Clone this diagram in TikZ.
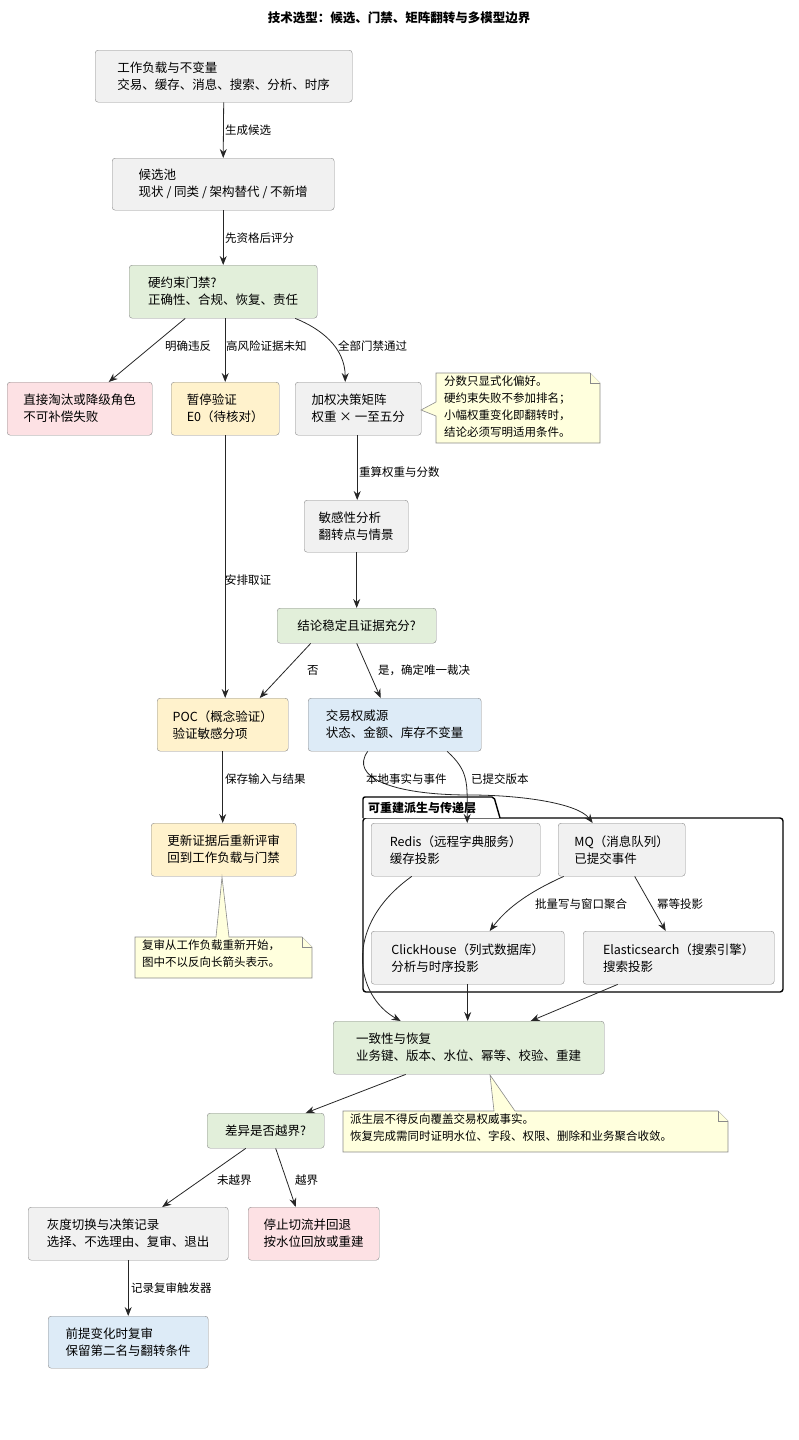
\documentclass[tikz,border=0pt]{standalone}
\usepackage{fontspec}
\setmainfont{Noto Sans CJK SC}
\usetikzlibrary{arrows.meta}
\definecolor{cgray}{HTML}{F1F1F1}
\definecolor{cgreen}{HTML}{E2EFDA}
\definecolor{cpink}{HTML}{FDE1E4}
\definecolor{cyel}{HTML}{FFF2CC}
\definecolor{cblue}{HTML}{DDEBF7}
\definecolor{cnote}{HTML}{FFFFDD}
\definecolor{cbord}{HTML}{8A8A8A}
\tikzset{
  box/.style n args={3}{draw=cbord, rounded corners=3pt, fill=#1, anchor=north west,
    minimum width=#2, minimum height=#3, inner xsep=10pt, inner ysep=0pt, align=left,
    font=\fontsize{12.5}{17}\selectfont},
  note/.style={draw=cbord, fill=cnote, line width=0.6pt},
  notetext/.style={anchor=north west, align=left, inner sep=0pt, font=\fontsize{11.5}{17}\selectfont},
  lab/.style={anchor=west, inner sep=0pt, font=\fontsize{11.5}{14}\selectfont},
  arr/.style={draw=black!85, line width=0.8pt, -{Stealth[length=9pt,width=7pt,inset=3pt]}},
}
\begin{document}
\begin{tikzpicture}[x=1pt,y=-1pt]
\useasboundingbox (0,0) rectangle (798,1440);
\node[font=\bfseries\fontsize{12.5}{15}\selectfont] (title) at (399,18) {技术选型：候选、门禁、矩阵翻转与多模型边界};

\node[box={cgray}{257pt}{52pt}] (n1) at (95,50) {工作负载与不变量\\交易、缓存、消息、搜索、分析、时序};
\node[box={cgray}{222pt}{52pt}] (n2) at (112,158) {候选池\\现状 / 同类 / 架构替代 / 不新增};
\node[box={cgreen}{188pt}{53pt}] (n3) at (129,265) {硬约束门禁?\\正确性、合规、恢复、责任};
\node[box={cpink}{145pt}{53pt}] (n4) at (7,382) {直接淘汰或降级角色\\不可补偿失败};
\node[box={cyel}{108pt}{53pt}] (n5) at (171,382) {暂停验证\\E0（待核对）};
\node[box={cgray}{126pt}{53pt}] (n6) at (295,382) {加权决策矩阵\\权重 × 一至五分};
\node[box={cgray}{104pt}{52pt}] (n7) at (304,500) {敏感性分析\\翻转点与情景};
\node[box={cgreen}{159pt}{35pt}] (n8) at (277,608) {结论稳定且证据充分?};
\node[box={cyel}{131pt}{53pt}] (n9) at (157,698) {POC（概念验证）\\验证敏感分项};
\node[box={cblue}{173pt}{53pt}] (n10) at (308,698) {交易权威源\\状态、金额、库存不变量};
\node[box={cyel}{145pt}{53pt}] (n11) at (151,823) {更新证据后重新评审\\回到工作负载与门禁};

% cluster
\draw[line width=1.4pt, rounded corners=3pt] (363,818) rectangle (783,992);
\draw[line width=1.4pt, rounded corners=2pt, fill=white] (363,818) -- (363,797) -- (494,797) -- (500,818);
\node[anchor=west, inner sep=0pt, font=\bfseries\fontsize{12}{14}\selectfont] (clab) at (368,808) {可重建派生与传递层};

\node[box={cgray}{169pt}{53pt}] (redis) at (371,823) {Redis（远程字典服务）\\缓存投影};
\node[box={cgray}{127pt}{53pt}] (mq) at (558,823) {MQ（消息队列）\\已提交事件};
\node[box={cgray}{193pt}{53pt}] (ch) at (371,931) {ClickHouse（列式数据库）\\分析与时序投影};
\node[box={cgray}{191pt}{53pt}] (es) at (583,931) {Elasticsearch（搜索引擎）\\搜索投影};
\node[box={cgreen}{271pt}{53pt}] (n12) at (333,1021) {一致性与恢复\\业务键、版本、水位、幂等、校验、重建};
\node[box={cgreen}{117pt}{35pt}] (n13) at (207,1113) {差异是否越界?};
\node[box={cgray}{200pt}{53pt}] (n14) at (28,1207) {灰度切换与决策记录\\选择、不选理由、复审、退出};
\node[box={cpink}{131pt}{53pt}] (n15) at (248,1207) {停止切流并回退\\按水位回放或重建};
\node[box={cblue}{160pt}{52pt}] (n16) at (48,1316) {前提变化时复审\\保留第二名与翻转条件};

% notes
\draw[note] (436,373) -- (590,373) -- (600,383) -- (600,443) -- (436,443) -- (436,416) -- (421,410) -- (436,402) -- cycle;
\draw[note] (590,373) -- (590,383) -- (600,383);
\node[notetext] (t1) at (444,376) {分数只显式化偏好。\\硬约束失败不参加排名；\\小幅权重变化即翻转时，\\结论必须写明适用条件。};
\draw[note] (135,937) -- (216,937) -- (222,877) -- (229,937) -- (302,937) -- (312,947) -- (312,978) -- (135,978) -- cycle;
\draw[note] (302,937) -- (302,947) -- (312,947);
\node[notetext] (t2) at (142,940) {复审从工作负载重新开始，\\图中不以反向长箭头表示。};
\draw[note] (343,1111) -- (494,1111) -- (490,1075) -- (515,1111) -- (718,1111) -- (728,1121) -- (728,1152) -- (343,1152) -- cycle;
\draw[note] (718,1111) -- (718,1121) -- (728,1121);
\node[notetext] (t3) at (350,1114) {派生层不得反向覆盖交易权威事实。\\恢复完成需同时证明水位、字段、权限、删除和业务聚合收敛。};

% edges
\draw[arr] (n1.south) -- (n2.north);
\draw[arr] (n2.south) -- (n3.north);
\draw[arr] ([xshift=-38pt]n3.south) -- ([xshift=29pt]n4.north);
\draw[arr] ([xshift=2pt]n3.south) -- (n5.north);
\draw[arr] ([xshift=72pt]n3.south) .. controls +(25,10) and +(0,-35) .. ([xshift=-13pt]n6.north);
\draw[arr] (n5.south) -- ([xshift=2.5pt]n9.north);
\draw[arr] ([xshift=-1pt]n6.south) -- ([xshift=1pt]n7.north);
\draw[arr] ([xshift=0.5pt]n7.south) -- (n8.north);
\draw[arr] ([xshift=-46pt]n8.south) -- ([xshift=37pt]n9.north);
\draw[arr] (n8.south) -- ([xshift=-14pt]n10.north);
\draw[arr] (n9.south) -- ([xshift=-1pt]n11.north);
\coordinate (bend) at (470,795);
\draw[arr] ([xshift=-27pt]n10.south) .. controls +(-18,25) and +(-80,0) .. (bend) .. controls +(50,0) and +(-15,-20) .. ([xshift=-29pt]mq.north);
\draw[arr] ([xshift=52.5pt]n10.south) .. controls +(22,20) and +(0,-40) .. ([xshift=11.5pt]redis.north);
\draw[arr] ([xshift=-58pt]mq.south) .. controls +(-40,18) and +(15,-20) .. ([xshift=22pt]ch.north);
\draw[arr] ([xshift=13pt]mq.south) -- ([xshift=-13pt]es.north);
\draw[arr] ([xshift=-44pt]redis.south) .. controls +(-70,50) and +(-45,-25) .. ([xshift=-68pt]n12.north);
\draw[arr] (ch.south) -- ([xshift=-1pt]n12.north);
\draw[arr] ([xshift=-61pt]es.south) -- ([xshift=62pt]n12.north);
\draw[arr] ([xshift=-63pt]n12.south) -- ([xshift=40pt]n13.north);
\draw[arr] ([xshift=-20pt]n13.south) -- ([xshift=34pt]n14.north);
\draw[arr] ([xshift=10pt]n13.south) -- ([xshift=-18pt]n15.north);
\draw[arr] (n14.south) -- (n16.north);

% labels
\node[lab] (l1) at (225,130) {生成候选};
\node[lab] (l2) at (225,238) {先资格后评分};
\node[lab] (l3) at (165,346) {明确违反};
\node[lab] (l4) at (226,346) {高风险证据未知};
\node[lab] (l5) at (338,346) {全部门禁通过};
\node[lab] (l6) at (225,580) {安排取证};
\node[lab] (l7) at (359,472) {重算权重与分数};
\node[lab] (l8) at (307,670) {否};
\node[lab] (l9) at (378,670) {是，确定唯一裁决};
\node[lab] (l10) at (225,779) {保存输入与结果};
\node[lab] (l11) at (366,779) {本地事实与事件};
\node[lab] (l12) at (471,779) {已提交版本};
\node[lab] (l13) at (535,904) {批量写与窗口聚合};
\node[lab] (l14) at (657,904) {幂等投影};
\node[lab] (l15) at (217,1180) {未越界};
\node[lab] (l16) at (295,1180) {越界};
\node[lab] (l17) at (131,1288) {记录复审触发器};
\end{tikzpicture}
\end{document}
